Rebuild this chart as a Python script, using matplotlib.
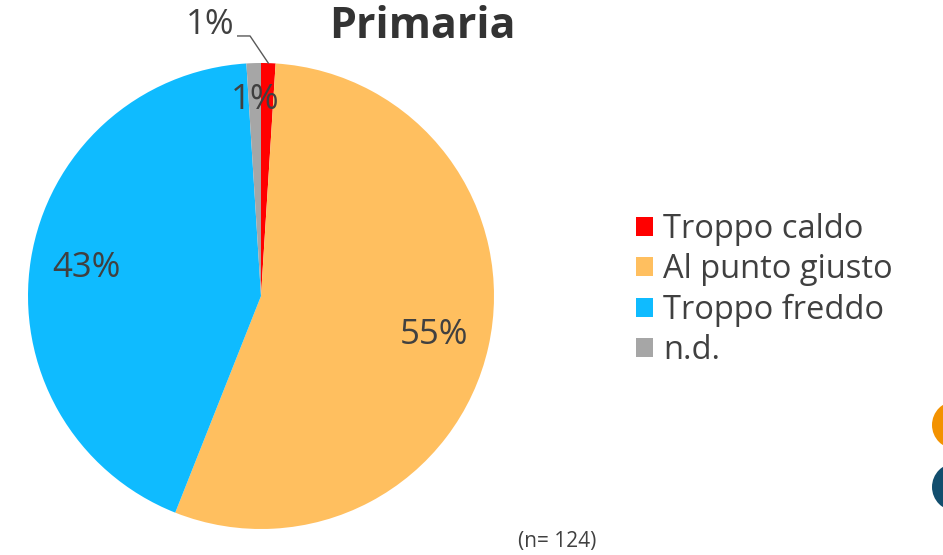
import matplotlib
matplotlib.use("Agg")
import matplotlib.pyplot as plt
import numpy as np
from matplotlib.patches import Circle, Patch

categories = ["Troppo caldo", "Al punto giusto", "Troppo freddo", "n.d."]
values = [1, 55, 43, 1]
labels = ["1%", "55%", "43%", "1%"]
colors = ["#FF0000", "#FFBF5F", "#0FBBFF", "#A6A6A6"]
title = "Primaria"
note = "(n= 124)"

plt.rcParams['font.family'] = ['Open Sans', 'DejaVu Sans']
txt_color = "#404040"

W, H = 943, 555
fig = plt.figure(figsize=(W / 100, H / 100), dpi=100)
cx, cy, r = 261, 296, 233
ax = fig.add_axes([(cx - r) / W, (H - cy - r) / H, 2 * r / W, 2 * r / H])
wedges, _ = ax.pie(values, colors=colors, startangle=90, counterclock=False,
                   wedgeprops=dict(linewidth=0))
ax.set_xlim(-1, 1)
ax.set_ylim(-1, 1)
ax.set_aspect('equal')
ax.axis('off')

radii = [None, 0.76, 0.76, 0.84]
for w, lab, rad in zip(wedges, labels, radii):
    mid = np.deg2rad((w.theta1 + w.theta2) / 2)
    if rad is None:
        x0, y0 = np.cos(mid), np.sin(mid)
        ax.plot([x0, -0.047, -0.10], [y0, 1.116, 1.116], color="#595959",
                lw=1.0, clip_on=False)
        ax.text(-0.115, 1.165, lab, ha='right', va='center', fontsize=25,
                color=txt_color, clip_on=False)
    else:
        ax.text(rad * np.cos(mid), rad * np.sin(mid), lab, ha='center',
                va='center', fontsize=25, color=txt_color)

fig.text(422 / W, 1 - 27 / H, title, ha='center', va='center', fontsize=31,
         fontweight='bold', color="#333333")
fig.text(557 / W, 1 - 541 / H, note, ha='center', va='center', fontsize=15,
         color=txt_color)

handles = [Patch(facecolor=c, edgecolor='none') for c in colors]
leg = fig.legend(handles, categories, loc='center left',
                 bbox_to_anchor=(636 / W, 1 - 290 / H), frameon=False,
                 fontsize=23.5, handlelength=0.52, handleheight=0.52,
                 handletextpad=0.3, labelspacing=0.22, labelcolor=txt_color,
                 borderpad=0, borderaxespad=0)

fig.patches.append(Circle((956, H - 425), 24, transform=None,
                          facecolor="#F39200", edgecolor='none'))
fig.patches.append(Circle((956, H - 487), 24, transform=None,
                          facecolor="#124E6E", edgecolor='none'))

fig.savefig("out.png", dpi=100)
